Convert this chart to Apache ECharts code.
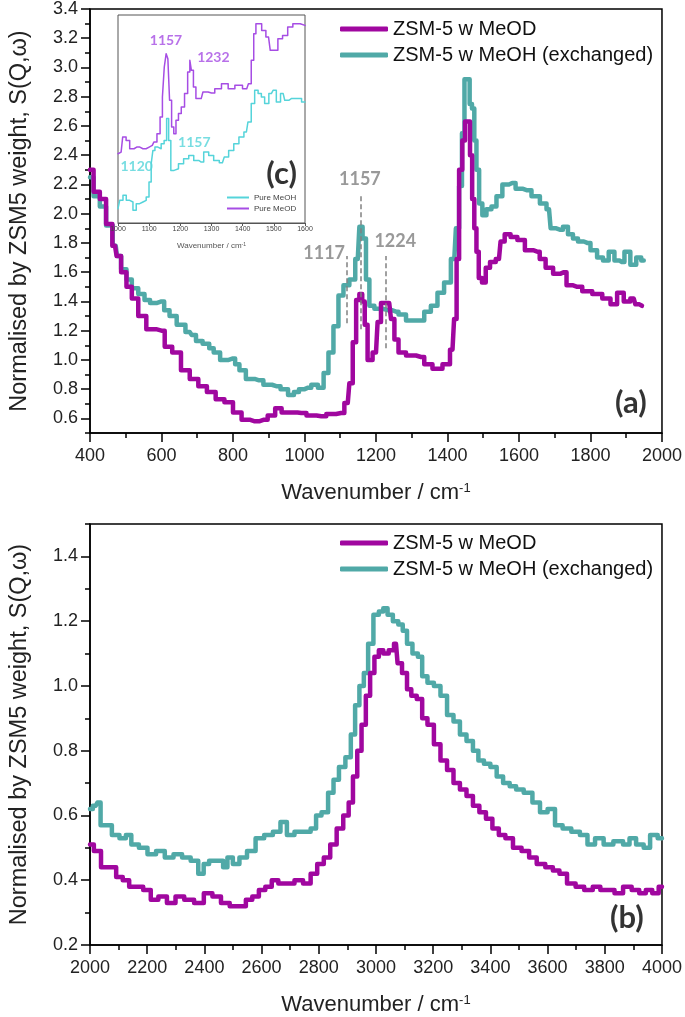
<!DOCTYPE html>
<html>
<head>
<meta charset="utf-8">
<script src="https://cdn.jsdelivr.net/npm/echarts@6/dist/echarts.min.js"></script>
<style>html,body{margin:0;padding:0;background:#fff}#c{width:685px;height:1017px}</style>
</head>
<body>
<div id="c"></div>
<script>
// ---- Panel (a): 400-2000 cm-1 ----
const topMeOH = [[400,2.25],[420,2.12],[435,2.05],[455,1.92],[472,1.78],[479,1.71],[495,1.62],[509,1.55],[525,1.49],[545,1.45],[560,1.41],[576,1.39],[600,1.40],[615,1.34],[630,1.30],[655,1.24],[679,1.19],[690,1.17],[703,1.13],[727,1.11],[740,1.08],[752,1.05],[776,1.00],[800,1.01],[812,0.97],[824,0.93],[848,0.87],[873,0.86],[897,0.83],[921,0.82],[945,0.80],[963,0.76],[978,0.78],[991,0.80],[1010,0.81],[1028,0.83],[1047,0.81],[1060,0.91],[1074,1.05],[1088,1.23],[1102,1.44],[1116,1.51],[1135,1.55],[1149,1.69],[1158,1.91],[1167,1.83],[1177,1.55],[1186,1.37],[1205,1.35],[1233,1.34],[1256,1.33],[1270,1.31],[1298,1.27],[1326,1.27],[1344,1.33],[1363,1.37],[1381,1.46],[1400,1.53],[1419,1.69],[1428,1.90],[1437,2.19],[1444,2.55],[1451,2.92],[1459,2.92],[1465,2.75],[1472,2.72],[1478,2.50],[1484,2.30],[1493,2.07],[1502,1.99],[1516,2.03],[1530,2.05],[1544,2.12],[1563,2.20],[1581,2.21],[1600,2.17],[1623,2.16],[1647,2.12],[1670,2.07],[1684,2.03],[1693,1.90],[1716,1.89],[1730,1.91],[1744,1.86],[1758,1.83],[1772,1.81],[1791,1.80],[1809,1.75],[1828,1.70],[1842,1.68],[1860,1.74],[1874,1.68],[1888,1.67],[1902,1.74],[1921,1.65],[1935,1.70],[1949,1.68]];
const topMeOD = [[400,2.30],[420,2.15],[435,2.10],[455,1.93],[470,1.78],[479,1.71],[495,1.60],[509,1.50],[525,1.42],[545,1.30],[570,1.21],[600,1.20],[618,1.09],[642,1.05],[667,0.93],[691,0.87],[715,0.82],[739,0.78],[764,0.73],[788,0.71],[812,0.64],[836,0.59],[861,0.58],[885,0.59],[909,0.62],[927,0.67],[945,0.64],[970,0.64],[991,0.637],[1020,0.62],[1047,0.615],[1075,0.63],[1102,0.637],[1121,0.705],[1130,0.84],[1140,1.12],[1149,1.41],[1158,1.45],[1165,1.40],[1172,1.24],[1181,1.00],[1200,1.05],[1209,1.26],[1219,1.39],[1237,1.39],[1247,1.28],[1256,1.14],[1270,1.05],[1298,1.03],[1326,1.02],[1344,0.97],[1372,0.94],[1400,0.97],[1414,1.07],[1423,1.28],[1428,1.69],[1437,2.30],[1446,2.50],[1452,2.63],[1460,2.63],[1466,2.40],[1472,2.10],[1478,1.90],[1484,1.74],[1491,1.56],[1502,1.53],[1512,1.63],[1526,1.67],[1544,1.69],[1553,1.81],[1567,1.86],[1586,1.84],[1605,1.82],[1628,1.75],[1651,1.74],[1665,1.69],[1684,1.63],[1707,1.59],[1726,1.60],[1740,1.51],[1763,1.50],[1791,1.47],[1819,1.45],[1847,1.42],[1865,1.38],[1884,1.46],[1902,1.40],[1921,1.42],[1930,1.38],[1944,1.37]];

// ---- Inset (c): pure methanol, arbitrary units ----
const insetMeOD = [[1000,33.3],[1010,34.1],[1020,41.3],[1032,39.7],[1043,35.7],[1060,36.5],[1080,35.7],[1100,36.5],[1110,37.3],[1120,38.9],[1130,42.9],[1140,51],[1145,60.6],[1152,75],[1157,81.4],[1163,79],[1168,59],[1176,46.2],[1182,42.9],[1190,49.4],[1198,52.6],[1208,55.8],[1219,62.2],[1228,72.6],[1233,78.2],[1238,73.4],[1246,65.4],[1254,59.8],[1267,59.8],[1278,63],[1300,62.5],[1321,64.6],[1343,67],[1364,64.6],[1386,66.2],[1413,64.6],[1424,67],[1431,78.2],[1440,91],[1445,95.8],[1456,95.8],[1466,92.6],[1483,89.4],[1494,83],[1506,83],[1520,88.6],[1536,90.2],[1553,94.2],[1569,95.8],[1600,95]];
const insetMeOH = [[1000,6.9],[1011,10.9],[1021,13.3],[1032,10.9],[1043,10.1],[1053,6.1],[1064,9.3],[1075,10.1],[1085,10.9],[1096,12.5],[1103,19.7],[1110,28.5],[1114,34.9],[1123,36.5],[1133,35.7],[1144,38.1],[1152,39.7],[1160,50.2],[1165,39.7],[1174,25.3],[1186,26.1],[1202,28.5],[1219,30.9],[1235,32.5],[1251,30.1],[1267,29.3],[1283,34.1],[1299,32.5],[1315,30.1],[1335,29],[1347,31.7],[1363,34.9],[1380,38.1],[1396,41.3],[1412,43.8],[1422,48.6],[1433,57.4],[1444,63.8],[1455,62.2],[1465,60.6],[1476,57.4],[1492,62.2],[1503,63.8],[1513,58.2],[1530,62.2],[1540,59],[1556,59.8],[1578,59.8],[1600,58.2]];

// ---- Panel (b): 2000-4000 cm-1 ----
const botMeOH = [[2000,0.62],[2020,0.63],[2032,0.64],[2042,0.57],[2065,0.57],[2088,0.54],[2118,0.53],[2133,0.54],[2156,0.51],[2186,0.50],[2216,0.48],[2246,0.49],[2277,0.47],[2307,0.48],[2337,0.47],[2367,0.46],[2390,0.42],[2405,0.45],[2428,0.46],[2458,0.46],[2473,0.44],[2488,0.47],[2511,0.45],[2534,0.47],[2564,0.49],[2594,0.53],[2624,0.54],[2655,0.55],[2677,0.58],[2700,0.54],[2730,0.55],[2760,0.55],[2783,0.56],[2798,0.60],[2821,0.61],[2844,0.67],[2859,0.71],[2882,0.75],[2904,0.78],[2920,0.85],[2934,0.94],[2950,1.00],[2965,1.04],[2980,1.13],[3002,1.22],[3018,1.23],[3033,1.24],[3048,1.22],[3070,1.20],[3086,1.19],[3101,1.17],[3116,1.13],[3139,1.10],[3154,1.09],[3169,1.03],[3191,1.01],[3214,1.00],[3237,0.97],[3260,0.91],[3282,0.89],[3305,0.85],[3328,0.83],[3350,0.80],[3366,0.77],[3389,0.76],[3411,0.75],[3433,0.72],[3456,0.70],[3479,0.69],[3501,0.68],[3532,0.67],[3562,0.64],[3585,0.61],[3615,0.62],[3637,0.57],[3668,0.56],[3698,0.55],[3728,0.54],[3751,0.51],[3781,0.53],[3811,0.51],[3849,0.52],[3879,0.51],[3894,0.53],[3925,0.51],[3947,0.50],[3970,0.54],[4000,0.53]];
const botMeOD = [[2000,0.51],[2027,0.49],[2050,0.44],[2080,0.44],[2103,0.41],[2126,0.40],[2148,0.38],[2171,0.38],[2201,0.37],[2224,0.34],[2254,0.35],[2284,0.33],[2314,0.35],[2345,0.34],[2383,0.33],[2413,0.36],[2443,0.35],[2473,0.33],[2504,0.32],[2534,0.32],[2556,0.34],[2579,0.35],[2602,0.37],[2624,0.38],[2647,0.40],[2670,0.39],[2700,0.39],[2730,0.40],[2760,0.39],[2783,0.42],[2806,0.45],[2829,0.47],[2851,0.51],[2874,0.56],[2897,0.60],[2912,0.64],[2927,0.72],[2942,0.80],[2957,0.88],[2972,0.97],[2987,1.04],[3002,1.09],[3018,1.11],[3033,1.10],[3056,1.11],[3070,1.13],[3081,1.07],[3101,1.04],[3116,0.99],[3131,0.97],[3154,0.96],[3169,0.90],[3191,0.88],[3214,0.82],[3237,0.77],[3260,0.74],[3282,0.70],[3305,0.68],[3328,0.66],[3350,0.63],[3373,0.61],[3396,0.59],[3418,0.56],[3441,0.54],[3464,0.53],[3494,0.50],[3524,0.49],[3547,0.47],[3577,0.45],[3607,0.44],[3630,0.43],[3653,0.42],[3683,0.39],[3713,0.38],[3743,0.37],[3773,0.38],[3796,0.37],[3819,0.37],[3849,0.36],[3879,0.38],[3909,0.37],[3932,0.36],[3955,0.37],[3977,0.36],[4000,0.38]];

// ---- tick values ----
const topYMajor = [0.6,0.8,1.0,1.2,1.4,1.6,1.8,2.0,2.2,2.4,2.6,2.8,3.0,3.2,3.4];
const topYMinor = [0.5,0.7,0.9,1.1,1.3,1.5,1.7,1.9,2.1,2.3,2.5,2.7,2.9,3.1,3.3];
const botYMajor = [0.2,0.4,0.6,0.8,1.0,1.2,1.4];
const botYMinor = [0.3,0.5,0.7,0.9,1.1,1.3,1.5];

// ---- annotations ----
const peakLines = [[1117,1.25,1.71],[1157,1.21,2.12],[1226,1.08,1.71]];
const peakLabels = [[1055,1.733,'1117'],[1155,2.233,'1157'],[1254,1.81,'1224']];
const insetLabels = [[1154,87.8,'1157','#a64de4'],[1306,79.5,'1232','#a64de4'],[1245,38.9,'1157','#55d4da'],[1060,27.4,'1120','#55d4da']];

const nameA = 'ZSM-5 w MeOD', nameH = 'ZSM-5 w MeOH (exchanged)';
const cPurple = '#a0079f', cTeal = '#50a9a7';
const FONT = "'Liberation Sans', Arial, sans-serif";
const yTitle = 'Normalised by ZSM5 weight, S(Q,\u03c9)';

const chart = echarts.init(document.getElementById('c'), null, {renderer:'canvas'});
const axisLine = {show:true, lineStyle:{color:'#000', width:1.5}};
const xName = {fontSize:22, color:'#222', fontFamily:FONT, rich:{sup:{fontSize:13, verticalAlign:'top', fontFamily:FONT, color:'#222'}}};

function mainX(grid, min, max) {
  return {gridIndex:grid, type:'value', min, max, interval:200,
    axisLine, axisTick:{show:true, inside:false, length:9, lineStyle:{color:'#000', width:1.5}},
    minorTick:{show:true, splitNumber:2, length:5, lineStyle:{color:'#000', width:1.5}},
    axisLabel:{fontSize:18, color:'#222', fontFamily:FONT, margin:14, formatter:v=>String(v)},
    splitLine:{show:false}, minorSplitLine:{show:false},
    name:'Wavenumber / cm{sup|-1}', nameLocation:'middle', nameGap:49, nameTextStyle:xName};
}
function mainY(grid, min, max, major) {
  return {gridIndex:grid, type:'value', position:'left', min, max,
    axisLine, axisTick:{show:true, length:9, customValues:major, lineStyle:{color:'#000', width:1.5}},
    axisLabel:{fontSize:18, color:'#222', fontFamily:FONT, margin:12, customValues:major, formatter:v=>v.toFixed(1)},
    splitLine:{show:false},
    name:yTitle, nameLocation:'middle', nameGap:58, nameRotate:90,
    nameTextStyle:{fontSize:23.5, color:'#222', fontFamily:FONT}};
}
function minorY(grid, min, max, minor) {
  return {gridIndex:grid, type:'value', position:'left', offset:0, min, max, axisLine:{show:false},
    axisTick:{show:true, length:5, customValues:minor, lineStyle:{color:'#000', width:1.5}},
    axisLabel:{show:false}, splitLine:{show:false}};
}
function lineSeries(name, data, color, xi, yi, w) {
  return {type:'line', name, data, xAxisIndex:xi, yAxisIndex:yi, step:'middle', showSymbol:false, symbol:'none',
    lineStyle:{color, width:w, join:'round', cap:'round'}, itemStyle:{color}, animation:false};
}
function textSeries(data, xi, yi, style) {
  return {type:'scatter', xAxisIndex:xi, yAxisIndex:yi, symbolSize:1, itemStyle:{color:'rgba(0,0,0,0)'},
    silent:true, animation:false, z:10, data:data.map(d=>({value:[d[0],d[1]], name:d[2], label:d[3]?{color:d[3]}:undefined})),
    label:Object.assign({show:true, position:'inside', formatter:p=>p.name}, style)};
}

chart.setOption({
  animation:false,
  backgroundColor:'#fff',
  grid:[
    {left:87, top:9, width:576, height:424, show:true, borderColor:'#000', borderWidth:1.5, backgroundColor:'transparent'},
    {left:118, top:15, width:187, height:208, show:true, borderColor:'#555', borderWidth:1, backgroundColor:'#fff', z:3},
    {left:86, top:524, width:578, height:423, show:true, borderColor:'#000', borderWidth:1.5, backgroundColor:'transparent'}
  ],
  xAxis:[
    mainX(0, 400, 2000),
    {gridIndex:1, type:'value', min:1000, max:1600, interval:100, z:4,
      axisLine:{show:true, lineStyle:{color:'#555', width:1}},
      axisTick:{show:true, length:3, lineStyle:{color:'#555'}},
      axisLabel:{fontSize:7, color:'#444', fontFamily:FONT, margin:3, formatter:v=>String(v)},
      splitLine:{show:false},
      name:'Wavenumber / cm{sup|-1}', nameLocation:'middle', nameGap:19,
      nameTextStyle:{fontSize:8, color:'#555', fontFamily:FONT, rich:{sup:{fontSize:5, verticalAlign:'top', color:'#555'}}}},
    mainX(2, 2000, 4000)
  ],
  yAxis:[
    mainY(0, 0.5, 3.4, topYMajor),
    minorY(0, 0.5, 3.4, topYMinor),
    {gridIndex:1, type:'value', min:0, max:100, show:false},
    mainY(2, 0.2, 1.5, botYMajor),
    minorY(2, 0.2, 1.5, botYMinor)
  ],
  legend:[
    {data:[nameA, nameH], left:335, top:14, orient:'vertical', itemWidth:48, itemHeight:5, itemGap:6, icon:'roundRect',
      textStyle:{fontSize:20, color:'#111', fontFamily:FONT, lineHeight:20}, selectedMode:false},
    {data:[nameA, nameH], left:335, top:528, orient:'vertical', itemWidth:48, itemHeight:5, itemGap:6, icon:'roundRect',
      textStyle:{fontSize:20, color:'#111', fontFamily:FONT, lineHeight:20}, selectedMode:false},
    {data:['Pure MeOH','Pure MeOD'], left:222, top:188, orient:'vertical', itemWidth:22, itemHeight:2, itemGap:2, icon:'rect',
      textStyle:{fontSize:8, color:'#444', fontFamily:FONT, lineHeight:9}, selectedMode:false, z:10}
  ],
  series:[
    lineSeries(nameH, topMeOH, cTeal, 0, 0, 4.5),
    lineSeries(nameA, topMeOD, cPurple, 0, 0, 4.5),
    Object.assign(lineSeries('Pure MeOH', insetMeOH, '#55d4da', 1, 2, 1.5), {z:5}),
    Object.assign(lineSeries('Pure MeOD', insetMeOD, '#a64de4', 1, 2, 1.5), {z:5}),
    lineSeries(nameH, botMeOH, cTeal, 2, 3, 4.5),
    lineSeries(nameA, botMeOD, cPurple, 2, 3, 4.5),
    {type:'lines', coordinateSystem:'cartesian2d', xAxisIndex:0, yAxisIndex:0, silent:true, animation:false, z:6,
      data:peakLines.map(d=>({coords:[[d[0],d[1]],[d[0],d[2]]]})),
      lineStyle:{color:'#808080', width:1.5, type:[5,3], opacity:1}},
    textSeries(peakLabels, 0, 0, {fontSize:18, fontWeight:'bold', color:'#808080', fontFamily:'Lato, sans-serif'}),
    textSeries([[1913,0.707,'(a)']], 0, 0, {fontSize:31, fontWeight:'bold', color:'#000', fontFamily:'Lato, sans-serif'}),
    Object.assign(textSeries(insetLabels, 1, 2, {fontSize:14, fontWeight:'bold', fontFamily:'Lato, sans-serif'}), {z:11}),
    Object.assign(textSeries([[1525,23.7,'(c)']], 1, 2, {fontSize:31, fontWeight:'bold', color:'#000', fontFamily:'Lato, sans-serif'}), {z:11}),
    textSeries([[3877,0.282,'(b)']], 2, 3, {fontSize:31, fontWeight:'bold', color:'#000', fontFamily:'Lato, sans-serif'})
  ]
});
</script>
</body>
</html>
